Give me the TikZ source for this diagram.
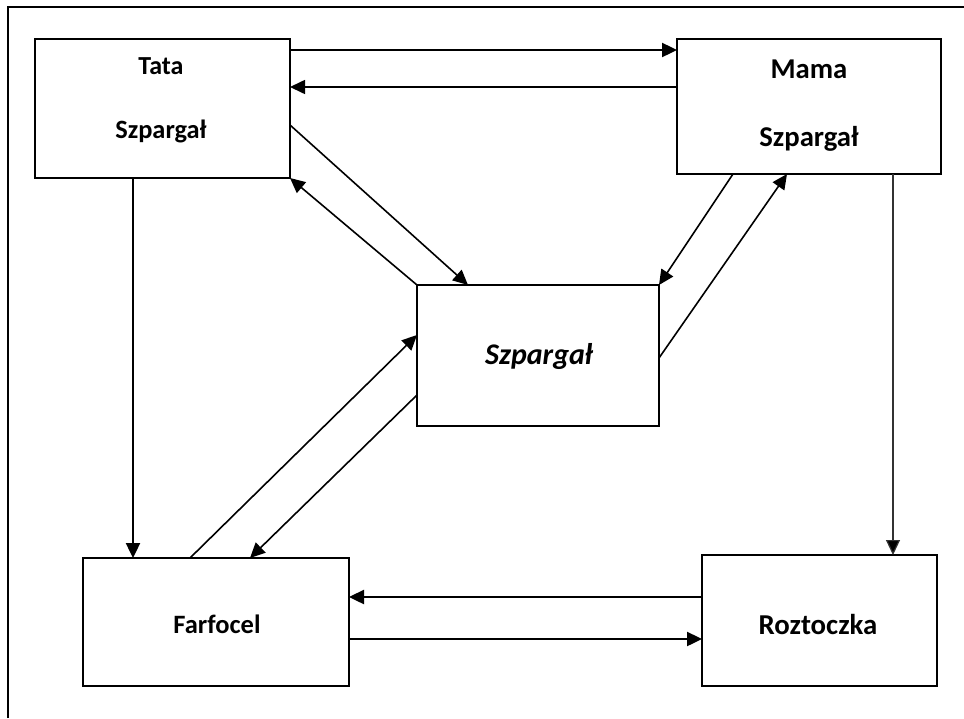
\documentclass[tikz,border=0pt]{standalone}
\usepackage{fontspec}
\newfontfamily\carl{Carlito}
\usetikzlibrary{arrows.meta}
\tikzset{
  box/.style={draw, line width=2.8pt, inner sep=0pt, outer sep=0pt, anchor=north west, fill=white},
  lbl/.style={anchor=base, inner sep=0pt, font=\carl\bfseries},
  thick arrow/.style={line width=2.4pt, -{Triangle[length=15pt,width=14pt]}},
  thin arrow/.style={line width=1.6pt, -{Triangle[length=15pt,width=14pt]}},
  hair arrow/.style={line width=1.2pt, draw=black!80, -{Triangle[length=15pt,width=14pt,fill=black]}},
}
\begin{document}
\begin{tikzpicture}[x=1pt,y=-1pt]
\useasboundingbox (0,0) rectangle (964,718);
% outer frame (top and left edges only)
\draw[line width=2.6pt] (8,718) -- (8,7) -- (964,7);
% boxes
\node[box, minimum width=255pt, minimum height=139pt] (tata) at (35,39) {};
\node[box, minimum width=264pt, minimum height=135pt] (mama) at (677,39) {};
\node[box, minimum width=242pt, minimum height=141pt] (cen)  at (417,285) {};
\node[box, minimum width=266pt, minimum height=128pt] (farf) at (83,558) {};
\node[box, minimum width=235pt, minimum height=131pt] (rozt) at (702,555) {};
% labels
\node[lbl, font=\carl\bfseries\fontsize{26}{30}\selectfont] (t1) at (161,74) {Tata};
\node[lbl, font=\carl\bfseries\fontsize{26.4}{30}\selectfont] (t2) at (161,138) {Szpargał};
\node[lbl, font=\carl\bfseries\fontsize{28.7}{32}\selectfont] (m1) at (809,78) {Mama};
\node[lbl, font=\carl\bfseries\fontsize{28.7}{32}\selectfont] (m2) at (809,146) {Szpargał};
\node[lbl, font=\carl\bfseries\itshape\fontsize{30}{34}\selectfont] (c1) at (539,364) {Szpargał};
\node[lbl, font=\carl\bfseries\fontsize{26.5}{30}\selectfont] (f1) at (217,633) {Farfocel};
\node[lbl, font=\carl\bfseries\fontsize{28.8}{32}\selectfont] (r1) at (818,634) {Roztoczka};
% connectors
\draw[thick arrow] ([yshift=-11pt]tata.north east) -- ([yshift=-11pt]mama.north west);
\draw[thin arrow]  ([yshift=-48pt]mama.north west) -- ([yshift=-48pt]tata.north east);
\draw[thin arrow]  ([yshift=-86pt]tata.north east) -- ([xshift=51pt]cen.north west);
\draw[thin arrow]  (cen.north west) -- (tata.south east);
\draw[thin arrow]  ([xshift=56pt]mama.south west) -- (cen.north east);
\draw[thin arrow]  ([yshift=-73pt]cen.north east) -- ([xshift=110pt]mama.south west);
\draw[thick arrow] ([xshift=98pt]tata.south west) -- ([xshift=50pt]farf.north west);
\draw[hair arrow]  ([xshift=216pt]mama.south west) -- ([xshift=191pt]rozt.north west);
\draw[thin arrow]  ([xshift=107pt]farf.north west) -- ([yshift=-50pt]cen.north west);
\draw[thin arrow]  ([yshift=-110pt]cen.north west) -- ([xshift=167pt]farf.north west);
\draw[thick arrow] ([yshift=-42pt]rozt.north west) -- ([yshift=-39pt]farf.north east);
\draw[thick arrow] ([yshift=-81pt]farf.north east) -- ([yshift=-84pt]rozt.north west);
\end{tikzpicture}
\end{document}
